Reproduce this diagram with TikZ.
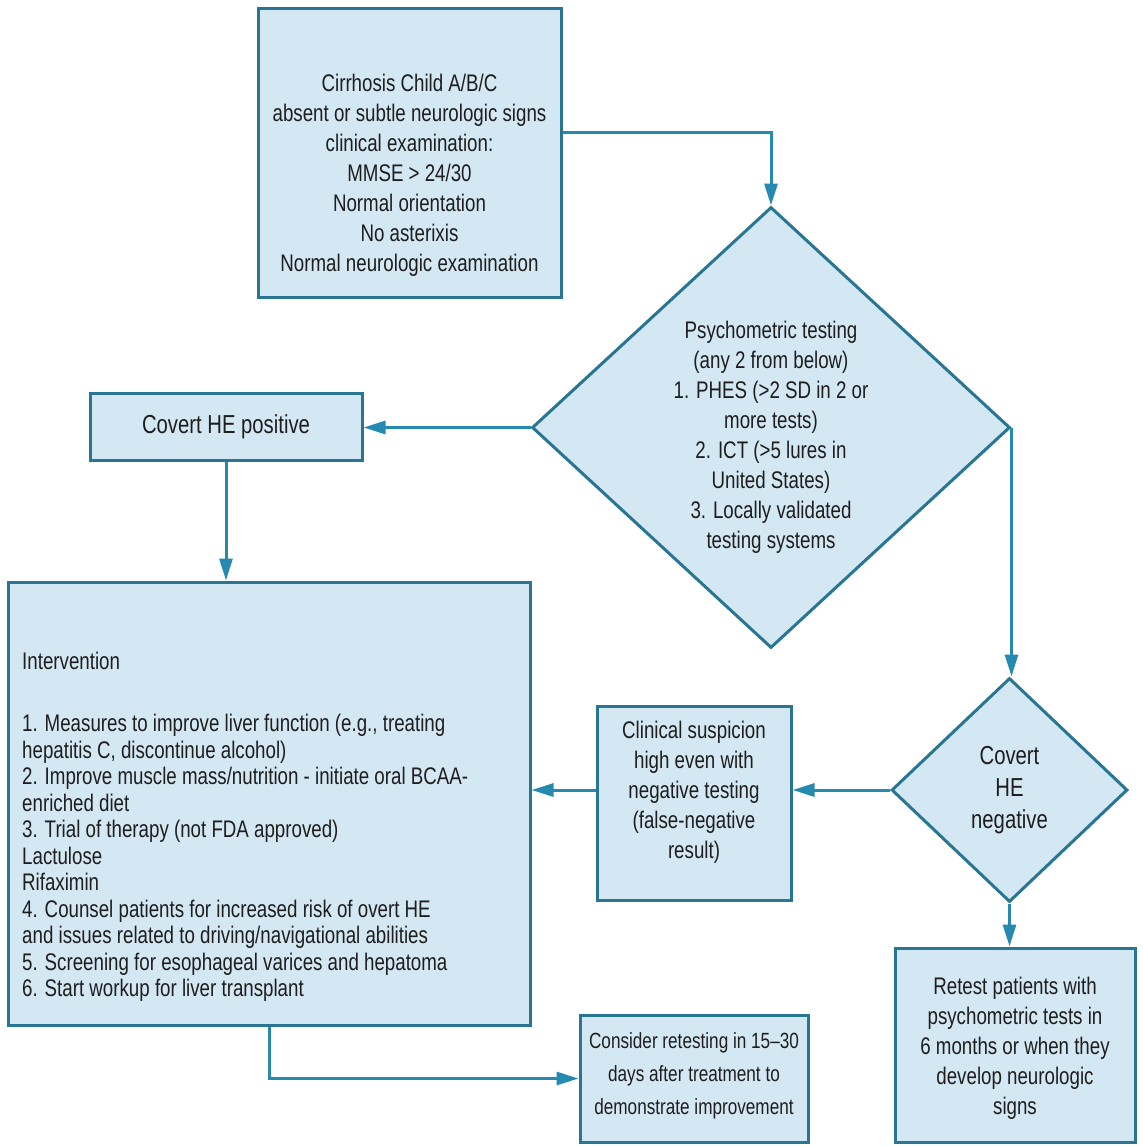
\documentclass[tikz,border=0pt]{standalone}
\usepackage{fontspec}
\setmainfont[FakeStretch=0.78]{Liberation Sans}
\usetikzlibrary{shapes.geometric,arrows.meta}
\definecolor{boxfill}{RGB}{212,232,244}
\definecolor{boxline}{RGB}{40,118,146}
\definecolor{arrowc}{RGB}{38,138,176}
\definecolor{textc}{RGB}{30,30,30}
\begin{document}
\begin{tikzpicture}[x=1pt,y=-1pt,
  box/.style={draw=boxline,fill=boxfill,line width=3pt,rectangle,inner sep=0pt},
  dia/.style={draw=boxline,fill=boxfill,line width=3pt,diamond,inner sep=0pt},
  txt/.style={align=center,inner sep=0pt,text=textc,font=\fontsize{24}{30}\selectfont},
  big/.style={align=center,inner sep=0pt,text=textc,font=\fontsize{26}{32}\selectfont},
  conn/.style={draw=arrowc,line width=3pt},
  arr/.style={conn,-{Triangle[length=22pt,width=13pt]}}]
\useasboundingbox[fill=white] (0,0) rectangle (1143,1146);

% boxes
\node[box,minimum width=303pt,minimum height=289pt] (top) at (409.5,152.5) {};
\node[dia,minimum width=478pt,minimum height=441pt] (d1) at (771,427.5) {};
\node[box,minimum width=272pt,minimum height=67pt] (cpos) at (226,426.5) {};
\node[box,minimum width=522pt,minimum height=443pt] (int) at (269,803.5) {};
\node[box,minimum width=194pt,minimum height=194pt] (clin) at (694,803) {};
\node[dia,minimum width=236pt,minimum height=224pt] (d2) at (1009.5,790) {};
\node[box,minimum width=240pt,minimum height=194pt] (ret) at (1015,1045) {};
\node[box,minimum width=228pt,minimum height=127pt] (cons) at (694,1078.5) {};

% texts
\node[txt] (toptxt) at (409.5,175) {Cirrhosis Child A/B/C\\absent or subtle neurologic signs\\clinical examination:\\MMSE > 24/30\\Normal orientation\\No asterixis\\Normal neurologic examination};
\node[txt] (d1txt) at (771,437) {Psychometric testing\\(any 2 from below)\\1. PHES (>2 SD in 2 or\\more tests)\\2. ICT (>5 lures in\\United States)\\3. Locally validated\\testing systems};
\node[big] (cpostxt) at (226,427) {Covert HE positive};
\node[txt,anchor=west] (inthead) at (22,661) {Intervention};
\node[txt,anchor=west,align=left,font=\fontsize{24}{26.5}\selectfont] (intlist) at (22,858) {1. Measures to improve liver function (e.g., treating\\hepatitis C, discontinue alcohol)\\2. Improve muscle mass/nutrition - initiate oral BCAA-\\enriched diet\\3. Trial of therapy (not FDA approved)\\Lactulose\\Rifaximin\\4. Counsel patients for increased risk of overt HE\\and issues related to driving/navigational abilities\\5. Screening for esophageal varices and hepatoma\\6. Start workup for liver transplant};
\node[txt] (clintxt) at (694,792) {Clinical suspicion\\high even with\\negative testing\\(false-negative\\result)};
\node[big] (d2txt) at (1009.5,790) {Covert\\HE\\negative};
\node[txt] (rettxt) at (1015,1048) {Retest patients with\\psychometric tests in\\6 months or when they\\develop neurologic\\signs};
\node[txt,font=\fontsize{22}{33}\selectfont] (constxt) at (694,1076) {Consider retesting in 15–30\\days after treatment to\\demonstrate improvement};

% connectors
\draw[arr] ([yshift=20pt]top.east) -| (d1.north);
\draw[arr] (d1.west) -- (d1.west -| cpos.east);
\draw[arr] (cpos.south) -- (cpos.south |- int.north);
\draw[arr] (d1.east) -- (d1.east |- d2.north);
\draw[arr] (d2.west) -- (d2.west -| clin.east);
\draw[arr] (d2.west -| clin.west) -- (d2.west -| int.east);
\draw[arr] (d2.south) -- (d2.south |- ret.north);
\draw[arr] (int.south) |- (cons.west);
\end{tikzpicture}
\end{document}
